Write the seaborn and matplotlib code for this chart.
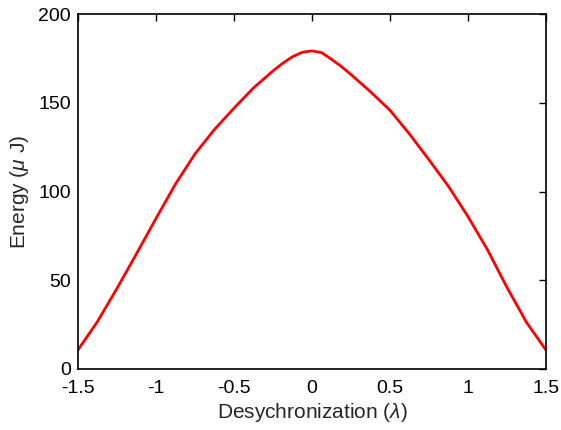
import numpy as np
import pandas as pd
import seaborn as sns
import matplotlib
matplotlib.use("Agg")
import matplotlib.pyplot as plt

lam = [-1.5, -1.375, -1.25, -1.125, -1.0, -0.875, -0.75, -0.625, -0.5, -0.375, -0.25,
       -0.1875, -0.125, -0.0625, 0.0, 0.0625, 0.125, 0.1875,
       0.25, 0.375, 0.5, 0.625, 0.75, 0.875, 1.0, 1.125, 1.25, 1.375, 1.5]
energy = [10.7, 26.7, 45.4, 64.9, 84.8, 104.2, 121.2, 135.0, 147.0, 158.4, 168.0,
          172.3, 176.0, 178.5, 179.3, 178.3, 174.6, 170.6,
          166.0, 156.3, 145.9, 132.5, 118.0, 103.0, 86.0, 67.3, 46.1, 26.4, 10.7]

sns.set_theme(style="white")
plt.rcParams['font.family'] = ['Liberation Sans', 'DejaVu Sans']
plt.rcParams['mathtext.fontset'] = 'custom'
plt.rcParams['mathtext.it'] = 'Liberation Sans:italic'
plt.rcParams['mathtext.rm'] = 'Liberation Sans'

df = pd.DataFrame({"lam": lam, "energy": energy})
fig = plt.figure(figsize=(5.61, 4.30), dpi=100)
ax = fig.add_axes([0.139, 0.142, 0.834, 0.825])
sns.lineplot(data=df, x="lam", y="energy", color="#ff0000", linewidth=2, ax=ax)
ax.set_xlim(-1.5, 1.5)
ax.set_ylim(0, 200)
ax.set_xticks([-1.5, -1, -0.5, 0, 0.5, 1, 1.5])
ax.set_xticklabels(["-1.5", "-1", "-0.5", "0", "0.5", "1", "1.5"])
ax.set_yticks([0, 50, 100, 150, 200])
ax.tick_params(direction="in", top=True, right=True, length=5, width=1, labelsize=14, colors="black")
ax.tick_params(axis="x", pad=8)
ax.tick_params(axis="y", pad=5)
for s in ax.spines.values():
    s.set_linewidth(1.2)
    s.set_color("black")
ax.set_xlabel(r"Desychronization ($\lambda$)", fontsize=15, labelpad=3)
ax.set_ylabel(r"Energy ($\mu$ J)", fontsize=15, labelpad=5)
fig.savefig("out.png", dpi=100)
